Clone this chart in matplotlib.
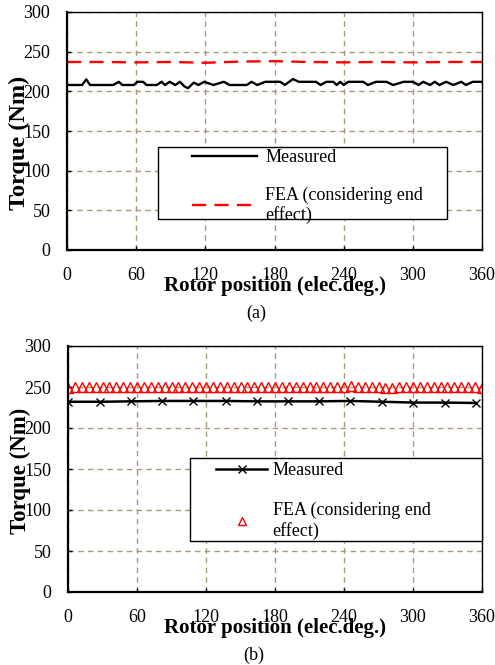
import numpy as np
import matplotlib
matplotlib.use('Agg')
import matplotlib.pyplot as plt
from matplotlib.patches import Rectangle

plt.rcParams['font.family'] = ['Liberation Serif', 'DejaVu Serif']

# (a) dados medidos e FEA
pos_med_a = [0, 13, 16.7, 20, 40, 45, 48, 58, 61, 66, 69, 78, 82, 85, 89, 94, 98, 102, 105,
             110, 114, 119, 127, 136, 141, 156, 160, 165, 172, 185, 189, 196, 201, 216, 220,
             225, 231, 234, 237, 240, 244, 257, 261, 268, 277, 283, 292, 300, 305, 309, 315,
             319, 323, 329, 335, 342, 346, 352, 360]
torque_med_a = [208, 208, 215, 208, 208, 212, 208, 208, 212, 212, 208, 208, 212, 208, 212, 208,
                212, 206, 204, 211, 208, 212, 208, 212, 208, 208, 212, 208, 212, 212, 208, 215.5,
                212, 212, 208, 212, 212, 208, 212, 208, 212, 212, 208, 212, 212, 208, 212, 212,
                208, 212, 208, 212, 208, 212, 208, 212, 208, 212, 212]
pos_fea_a = [0, 30, 60, 90, 120, 150, 180, 210, 240, 270, 300, 330, 360]
torque_fea_a = [237, 237, 236.5, 237, 236, 237.5, 238, 237, 236.5, 237, 236.5, 237, 237]

# (b) dados medidos e FEA
pos_med_b = [0, 27.5, 55, 82, 109, 137, 164, 191, 218, 245, 273, 300, 328, 354.5]
torque_med_b = [232, 232, 232.5, 233, 233, 233, 232.5, 232.5, 232.5, 233, 232, 231, 231, 230.5]
pos_fea_b = list(range(0, 361, 6))
torque_fea_b = [249, 250, 250.5, 250, 250, 250.5, 250, 250, 250, 250.5, 250, 250, 250.5, 250,
                250, 250, 250.5, 250, 250, 250, 250, 250.5, 250, 250, 250, 250.5, 250, 250,
                250, 250.5, 250, 250, 250, 250.5, 250, 250, 250.5, 250, 250, 250, 250.5, 251,
                250.5, 250, 250, 249.5, 249, 249, 249.5, 250, 250, 250.5, 250, 250, 250, 250.5,
                250, 250, 250, 250, 249]

xticks = [0, 60, 120, 180, 240, 300, 360]
yticks = [0, 50, 100, 150, 200, 250, 300]
cor_grade = '#a89c74'
rotulo_fea = 'FEA (considering end\neffect)'

fig = plt.figure(figsize=(4.95, 6.65), dpi=100)
ax1 = fig.add_axes([67/495, 1-250/665, 415/495, 238/665])
ax2 = fig.add_axes([68/495, 1-592/665, 414/495, 246/665])


def formatar(ax, h_px, tam_y, pos_y):
    ax.set_xlim(0, 360)
    ax.set_ylim(0, 300)
    ax.set_xticks(xticks)
    ax.set_yticks(yticks)
    ax.grid(True, color=cor_grade, linestyle=(0, (4, 3)), linewidth=1.0)
    ax.tick_params(axis='both', labelsize=13, direction='in', length=3, width=1)
    ax.tick_params(axis='x', pad=12)
    ax.tick_params(axis='y', pad=12)
    for s in ['left', 'bottom']:
        ax.spines[s].set_linewidth(1.6)
    for s in ['top', 'right']:
        ax.spines[s].set_linewidth(1.0)
    ax.set_xlabel('Rotor position (elec.deg.)', fontsize=15, fontweight='bold')
    ax.set_ylabel('Torque (Nm)', fontsize=tam_y, fontweight='bold')
    ax.xaxis.set_label_coords(0.5, -26/h_px)
    ax.yaxis.set_label_coords(-0.09, pos_y)


def caixa_legenda(ax, x0, y0, w, h):
    ax.add_patch(Rectangle((x0, y0), w, h, transform=ax.transAxes, facecolor='white',
                           edgecolor='black', linewidth=1.0, zorder=4, clip_on=False))


formatar(ax1, 238, 17.5, 0.45)
ax1.plot(pos_med_a, torque_med_a, color='black', linewidth=1.7, label='Measured')
ax1.plot(pos_fea_a, torque_fea_a, color='red', linewidth=1.7, dashes=(6, 3.5),
         label=rotulo_fea)
caixa_legenda(ax1, (158-67)/415, (250-219)/238, 289/415, 72/238)
leg1 = ax1.legend(loc='upper left', bbox_to_anchor=((192-67)/415, (250-149)/238),
                  fontsize=13, frameon=False, borderpad=0, handlelength=3.6,
                  handletextpad=0.45, labelspacing=1.12, borderaxespad=0)
leg1.set_zorder(5)

formatar(ax2, 246, 16.5, 0.492)
ax2.plot(pos_med_b, torque_med_b, color='black', linewidth=1.8, marker='x',
         markersize=6, markeredgewidth=1.0, label='Measured')
ax2.plot(pos_fea_b, torque_fea_b, linestyle='none', marker='^', markersize=7,
         markerfacecolor='none', markeredgecolor='red', markeredgewidth=1.0,
         label=rotulo_fea)
caixa_legenda(ax2, (190-68)/414, (592-541)/246, 292/414, 83/246)
leg2 = ax2.legend(loc='upper left', bbox_to_anchor=((216-68)/414, (592-462)/246),
                  fontsize=13, frameon=False, borderpad=0, handlelength=2.85,
                  handletextpad=0.28, labelspacing=1.25, borderaxespad=0, markerscale=0.85)
leg2.set_zorder(5)

fig.text(256/495, 1-313/665, '(a)', fontsize=13, ha='center', va='center')
fig.text(254/495, 1-655/665, '(b)', fontsize=13, ha='center', va='center')

fig.savefig('out.png', dpi=100)
